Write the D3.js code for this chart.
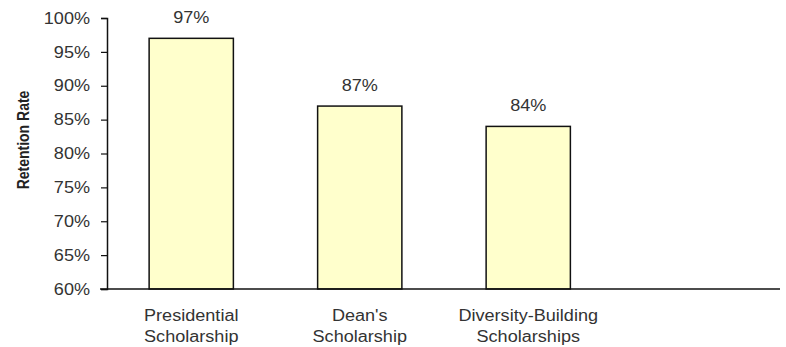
<!DOCTYPE html>
<html>
<head>
<meta charset="utf-8">
<script src="https://cdn.jsdelivr.net/npm/d3@7"></script>
<style>
  body { margin: 0; background: #fff; }
  text { font-family: "Liberation Sans", Arial, sans-serif; }
</style>
</head>
<body>
<div id="chart"></div>
<script>
'use strict';

const categories = ['Presidential Scholarship', "Dean's Scholarship", 'Diversity-Building Scholarships', ''];
const labelLines = [['Presidential', 'Scholarship'], ["Dean's", 'Scholarship'], ['Diversity-Building', 'Scholarships'], []];
const values = [97, 87, 84];
const yTicks = [60, 65, 70, 75, 80, 85, 90, 95, 100];

const width = 786, height = 347;
const margin = { top: 18, right: 5, bottom: 58, left: 107 };
const plotWidth = width - margin.left - margin.right;
const plotHeight = height - margin.top - margin.bottom;
const stretch = 1.13; // text in the original is a bit wide
const textColor = '#333';

const svg = d3.select('#chart').append('svg')
  .attr('width', width)
  .attr('height', height);

const plot = svg.append('g')
  .attr('transform', `translate(${margin.left}, ${margin.top})`);

const x = d3.scaleBand()
  .domain(categories)
  .range([0, plotWidth])
  .paddingInner(0.5)
  .paddingOuter(0.25);

const y = d3.scaleLinear()
  .domain([60, 100])
  .range([plotHeight, 0]);

// y axis
const yAxis = plot.append('g')
  .call(d3.axisLeft(y).tickValues(yTicks).tickSize(6).tickFormat((d) => d + '%'));
yAxis.select('.domain').attr('stroke', '#111').attr('stroke-width', 1.5);
yAxis.selectAll('.tick line').attr('stroke', '#111').attr('stroke-width', 1.2);
yAxis.selectAll('.tick text')
  .attr('x', 0)
  .attr('transform', `translate(-17, 0) scale(${stretch}, 1)`)
  .style('font-size', '16px')
  .attr('fill', textColor);

// bars
plot.selectAll('.bar')
  .data(values)
  .enter().append('rect')
    .attr('class', 'bar')
    .attr('x', (d, i) => x(categories[i]))
    .attr('y', (d) => y(d))
    .attr('width', x.bandwidth())
    .attr('height', (d) => plotHeight - y(d))
    .attr('fill', '#ffffcc')
    .attr('stroke', '#111')
    .attr('stroke-width', 1.5);

// value labels
plot.selectAll('.value')
  .data(values)
  .enter().append('text')
    .attr('class', 'value')
    .attr('transform', (d, i) =>
      `translate(${x(categories[i]) + x.bandwidth() / 2}, ${y(d) - 15}) scale(${stretch}, 1)`)
    .attr('text-anchor', 'middle')
    .style('font-size', '16px')
    .attr('fill', textColor)
    .text((d) => d + '%');

// x axis line
plot.append('line')
  .attr('x1', -7).attr('x2', plotWidth - 1)
  .attr('y1', plotHeight).attr('y2', plotHeight)
  .attr('stroke', '#111')
  .attr('stroke-width', 1.5);

// category labels
const cat = plot.selectAll('.cat')
  .data(categories)
  .enter().append('text')
    .attr('class', 'cat')
    .attr('text-anchor', 'middle')
    .style('font-size', '16px')
    .attr('fill', textColor)
    .attr('transform', (d) =>
      `translate(${x(d) + x.bandwidth() / 2}, ${plotHeight + 32}) scale(${stretch}, 1)`);
cat.each(function (d, i) {
  labelLines[i].forEach((line, j) => {
    d3.select(this).append('tspan')
      .attr('x', 0)
      .attr('y', j * 21)
      .text(line);
  });
});

// y axis title
svg.append('text')
  .attr('transform', `translate(29, 140) rotate(-90) scale(1, ${stretch})`)
  .attr('text-anchor', 'middle')
  .style('font-size', '14px')
  .style('font-weight', 'bold')
  .attr('fill', '#222')
  .text('Retention Rate');
</script>
</body>
</html>
